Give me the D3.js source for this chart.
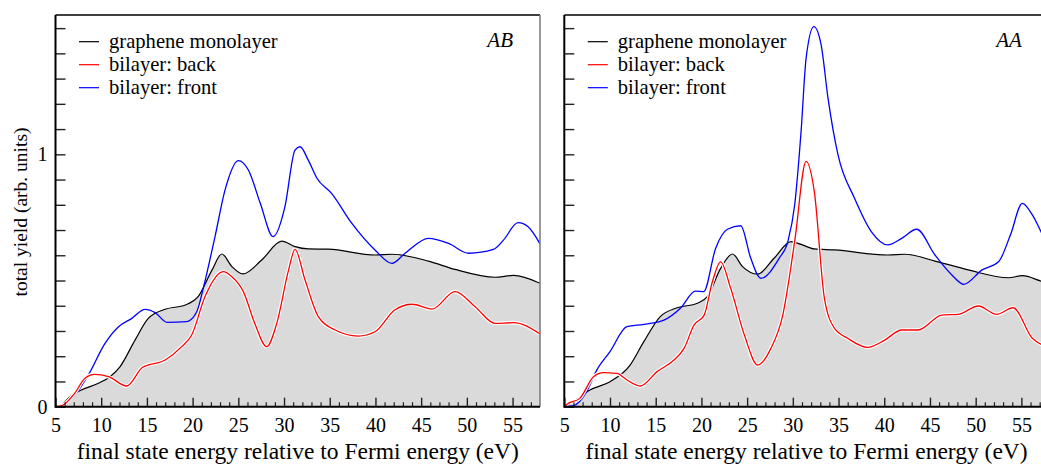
<!DOCTYPE html>
<html>
<head>
<meta charset="utf-8">
<script src="https://cdn.jsdelivr.net/npm/d3@7"></script>
<style>
  body { margin: 0; background: #fff; }
  svg { display: block; font-family: "Liberation Serif", "DejaVu Serif", serif; }
</style>
</head>
<body>
<svg id="chart" width="1041" height="464"></svg>
<script>
// values: [energy (eV), total yield]
const abMono = [[5,0],[5.7,0.007],[6.3,0.03],[7.7,0.064],[9.7,0.093],[11,0.12],[12.05,0.158],[13.7,0.264],[15.15,0.35],[17.0,0.386],[19.2,0.403],[20.6,0.436],[22.1,0.54],[23.2,0.605],[24.3,0.555],[25.5,0.526],[27.55,0.581],[29.75,0.656],[31.2,0.634],[32.65,0.625],[34.85,0.624],[39.95,0.601],[41.8,0.604],[45.8,0.577],[48.7,0.544],[53.1,0.513],[55.1,0.52],[58,0.489]];
const abBack = [[5,0],[5.7,0.004],[7.1,0.053],[8.2,0.112],[9.3,0.128],[10.8,0.119],[12.8,0.082],[14.5,0.155],[17.0,0.185],[18.8,0.238],[19.9,0.284],[21.35,0.436],[23.35,0.535],[24.3,0.515],[25.55,0.456],[26.8,0.33],[28.1,0.238],[29.2,0.33],[30.5,0.542],[31.2,0.623],[32.3,0.502],[33.75,0.357],[35.6,0.304],[38.1,0.28],[39.95,0.297],[42.1,0.383],[44.0,0.406],[46.2,0.387],[48.7,0.456],[50.9,0.396],[53.1,0.33],[55.1,0.333],[58,0.288]];
const abFront = [[5,0],[5.8,0.004],[7.1,0.046],[8.6,0.126],[10.4,0.25],[11.9,0.317],[13.35,0.35],[14.8,0.386],[15.9,0.373],[17.2,0.334],[19.35,0.337],[20.45,0.376],[21.2,0.475],[22.45,0.674],[23.55,0.859],[25.0,0.975],[26.1,0.938],[27.4,0.806],[28.8,0.674],[30.1,0.793],[31.2,1.017],[31.75,1.03],[32.65,0.977],[33.6,0.905],[35.2,0.845],[37.4,0.727],[39.95,0.621],[41.8,0.568],[43.25,0.608],[45.8,0.667],[48.0,0.647],[50.2,0.608],[52.9,0.623],[54.0,0.66],[55.6,0.729],[56.7,0.713],[58,0.645]];

const aaMono = [[5,0],[6.0,0.02],[7.8,0.066],[10.0,0.099],[12.2,0.165],[13.7,0.258],[15.5,0.357],[17.35,0.392],[19.55,0.41],[20.65,0.436],[22.1,0.548],[23.4,0.605],[24.5,0.555],[26.15,0.525],[27.95,0.588],[29.8,0.654],[30.9,0.643],[32.35,0.625],[34.55,0.621],[40.4,0.601],[42.25,0.604],[45.55,0.577],[49.2,0.542],[53.6,0.511],[55.1,0.519],[57.4,0.495],[58,0.49]];
const aaBack = [[5,0],[5.3,0.01],[6.7,0.033],[8.2,0.119],[9.3,0.135],[10.75,0.132],[11.85,0.106],[13.3,0.082],[15.15,0.139],[17.0,0.185],[18.1,0.231],[19.2,0.324],[20.3,0.363],[21.2,0.495],[22.1,0.574],[23.2,0.469],[24.7,0.284],[26.15,0.165],[27.6,0.231],[28.9,0.363],[30.2,0.654],[31.45,0.972],[32.35,0.852],[33.45,0.43],[34.55,0.311],[36.0,0.271],[38.2,0.235],[40.05,0.264],[41.9,0.304],[43.7,0.304],[46.3,0.363],[48.1,0.366],[50.3,0.399],[52.3,0.366],[54.1,0.392],[56.2,0.271],[57.4,0.244],[58,0.24]];
const aaFront = [[5,0],[6.0,0.004],[7.45,0.06],[8.55,0.145],[10.0,0.218],[11.85,0.317],[13.7,0.326],[15.9,0.343],[17.7,0.39],[19.35,0.458],[20.25,0.456],[21.55,0.627],[22.85,0.703],[24.3,0.717],[25.4,0.588],[26.5,0.509],[28.5,0.588],[29.45,0.654],[30.2,0.799],[30.9,1.09],[31.45,1.38],[32.3,1.506],[33.1,1.433],[33.85,1.222],[34.95,0.997],[36.75,0.826],[38.6,0.693],[40.4,0.641],[41.9,0.667],[43.55,0.703],[45.55,0.601],[47.4,0.522],[48.7,0.485],[50.7,0.542],[52.5,0.574],[53.8,0.68],[55.1,0.806],[56.2,0.76],[57.4,0.674],[58,0.63]];

const xMajor = [5,10,15,20,25,30,35,40,45,50,55];
const yLabels = [0,1];
const legendNames = ["graphene monolayer","bilayer: back","bilayer: front"];
const legendColors = ["#000","#f00","#00f"];
const panelNames = ["AB","AA"];

function ready(fn) {
  if (document.readyState != 'loading'){
    fn();
  } else {
    document.addEventListener('DOMContentLoaded', fn);
  }
}

ready(main);

function main() {
  let svg = d3.select("#chart");
  let top = 15, bottom = 406.7, pw = 484.5;
  let y = d3.scaleLinear().domain([0, 1.552]).range([bottom, top]);
  let yMinor = d3.range(0, 1.55, 0.1).map(v => +v.toFixed(1));
  let xMinor = d3.range(5, 58, 1).filter(v => v % 5 != 0);

  let panels = [
    {x0: 55.5, name: panelNames[0], mono: abMono, back: abBack, front: abFront, ylab: true},
    {x0: 564.3, name: panelNames[1], mono: aaMono, back: aaBack, front: aaFront, ylab: false}
  ];

  panels.forEach(function(p, i) {
    let x = d3.scaleLinear().domain([5, 58]).range([p.x0, p.x0 + pw]);
    let g = svg.append("g");

    svg.append("clipPath").attr("id", "clip" + i)
      .append("rect").attr("x", p.x0).attr("y", top).attr("width", pw).attr("height", bottom - top);

    let plot = g.append("g").attr("clip-path", "url(#clip" + i + ")");

    let area = d3.area().x(d => x(d[0])).y0(y(0)).y1(d => y(d[1])).curve(d3.curveMonotoneX);
    let line = d3.line().x(d => x(d[0])).y(d => y(d[1])).curve(d3.curveMonotoneX);

    plot.append("path").attr("d", area(p.mono)).attr("fill", "#dadada");
    plot.append("path").attr("d", line(p.mono)).attr("fill", "none").attr("stroke", "#000").attr("stroke-width", 1.2);
    plot.append("path").attr("d", line(p.front)).attr("fill", "none").attr("stroke", "#00f").attr("stroke-width", 1.3);
    plot.append("path").attr("d", line(p.back)).attr("fill", "none").attr("stroke", "#fff").attr("stroke-width", 3.6);
    plot.append("path").attr("d", line(p.back)).attr("fill", "none").attr("stroke", "#f00").attr("stroke-width", 1.3);

    // x axis: inward ticks
    let xa = g.append("g").attr("transform", "translate(0," + bottom + ")")
      .call(d3.axisBottom(x).tickValues(xMajor).tickSize(-9).tickPadding(13).tickFormat(d3.format("d")));
    xa.select(".domain").remove();
    xa.selectAll("line").attr("stroke", "#222").attr("stroke-width", 1.4);
    xa.selectAll("text").attr("font-size", 20).attr("font-family", "Liberation Serif").attr("fill", "#000")
      .attr("dy", "0.71em").attr("y", 11);

    let xm = g.append("g").attr("transform", "translate(0," + bottom + ")")
      .call(d3.axisBottom(x).tickValues(xMinor).tickSize(-4.5).tickFormat(""));
    xm.select(".domain").remove();
    xm.selectAll("line").attr("stroke", "#222").attr("stroke-width", 1.2);

    // y axis: inward ticks
    let ya = g.append("g").attr("transform", "translate(" + p.x0 + ",0)")
      .call(d3.axisLeft(y).tickValues(yMinor).tickSize(-10)
        .tickFormat(d => (p.ylab && yLabels.indexOf(d) > -1) ? d3.format("d")(d) : ""));
    ya.select(".domain").remove();
    ya.selectAll("line").attr("stroke", "#222").attr("stroke-width", 1.4);
    ya.selectAll("text").attr("font-size", 20).attr("font-family", "Liberation Serif").attr("fill", "#000")
      .attr("x", -8);

    // frame
    g.append("line").attr("x1", p.x0).attr("x2", p.x0 + pw).attr("y1", top).attr("y2", top)
      .attr("stroke", "#000").attr("stroke-width", 1.5);
    g.append("line").attr("x1", p.x0 + pw).attr("x2", p.x0 + pw).attr("y1", top).attr("y2", bottom)
      .attr("stroke", "#777").attr("stroke-width", 1.5);
    g.append("line").attr("x1", p.x0).attr("x2", p.x0).attr("y1", top).attr("y2", bottom + 1)
      .attr("stroke", "#000").attr("stroke-width", 2);
    g.append("line").attr("x1", p.x0).attr("x2", p.x0 + pw).attr("y1", bottom).attr("y2", bottom)
      .attr("stroke", "#000").attr("stroke-width", 2);

    // legend
    legendNames.forEach(function(name, k) {
      let ly = 41.7 + k * 23;
      g.append("line").attr("x1", p.x0 + 23.5).attr("x2", p.x0 + 43.5).attr("y1", ly).attr("y2", ly)
        .attr("stroke", legendColors[k]).attr("stroke-width", 1.2);
      g.append("text").attr("x", p.x0 + 53.5).attr("y", ly + 6)
        .attr("font-size", 20.6).text(name);
    });

    g.append("text").attr("x", p.x0 + 457.5).attr("y", 47).attr("text-anchor", "end")
      .attr("font-size", 21).attr("font-style", "italic").text(p.name);

    g.append("text").attr("x", p.x0 + pw / 2).attr("y", 459).attr("text-anchor", "middle")
      .attr("font-size", 23.5).text("final state energy relative to Fermi energy (eV)");
  });

  svg.append("text")
    .attr("transform", "translate(27,212) rotate(-90)")
    .attr("text-anchor", "middle").attr("font-size", 19.5)
    .text("total yield (arb. units)");
}
</script>
</body>
</html>
